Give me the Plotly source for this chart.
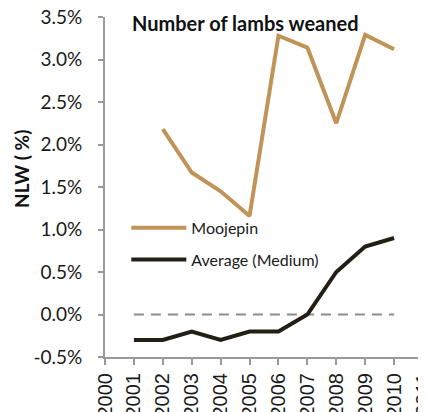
import plotly.graph_objects as go

years = [2001, 2002, 2003, 2004, 2005, 2006, 2007, 2008, 2009, 2010]
moojepin = [None, 2.18, 1.67, 1.45, 1.16, 3.28, 3.14, 2.25, 3.29, 3.12]
average_medium = [-0.3, -0.3, -0.2, -0.3, -0.2, -0.2, 0.0, 0.5, 0.8, 0.9]
zero_line = [0.0] * len(years)
tick_years = list(range(2000, 2012))
y_ticks = [-0.5, 0.0, 0.5, 1.0, 1.5, 2.0, 2.5, 3.0, 3.5]
y_labels = ["-0.5%", "0.0%", "0.5%", "1.0%", "1.5%", "2.0%", "2.5%", "3.0%", "3.5%"]

FONT = "Lato"

fig = go.Figure()
fig.add_trace(go.Scatter(x=years, y=zero_line, mode="lines", showlegend=False,
                         line=dict(color="#8c8c8c", width=2, dash="10px,7px"), hoverinfo="skip"))
fig.add_trace(go.Scatter(x=years, y=moojepin, mode="lines", name="Moojepin", legendgroup="a",
                         line=dict(color="#C09458", width=4)))
fig.add_trace(go.Scatter(x=years, y=average_medium, mode="lines", name="Average (Medium)",
                         legendgroup="b", line=dict(color="#231F15", width=4)))

# page body has an 8px default margin, so the figure is sized to fit the window
fig.update_layout(
    width=418, height=404,
    margin=dict(l=97, r=3, t=9, b=55),
    plot_bgcolor="white", paper_bgcolor="white",
    font=dict(family=FONT, size=17, color="#1a1a1a"),
    xaxis=dict(range=[2000, 2011], tickmode="array", tickvals=tick_years,
               ticktext=[str(y) for y in tick_years], tickangle=-90, automargin=False,
               showgrid=False, zeroline=False, showline=True, linecolor="#9a9a9a",
               linewidth=2, ticks="outside", ticklen=6, tickcolor="#9a9a9a", tickwidth=2,
               ticklabelstandoff=0, ticklabeloverflow="allow",
               tickfont=dict(size=20, family="Liberation Sans")),
    yaxis=dict(range=[-0.5, 3.5], tickmode="array", tickvals=y_ticks, ticktext=y_labels,
               automargin=False,
               showgrid=False, zeroline=False, showline=True, linecolor="#9a9a9a",
               linewidth=2, ticks="outside", ticklen=5, tickcolor="#9a9a9a", tickwidth=2,
               ticklabelstandoff=12, ticklabeloverflow="allow", tickfont=dict(size=19)),
    legend=dict(x=0.067, y=0.43, xanchor="left", yanchor="top", bgcolor="rgba(0,0,0,0)",
                font=dict(size=16), itemwidth=55, tracegroupgap=8),
    showlegend=True,
)
fig.add_annotation(text="<b>Number of lambs weaned</b>", xref="paper", yref="paper",
                   x=0.0786, y=0.982, xanchor="left", yanchor="middle", showarrow=False,
                   font=dict(size=20, color="#111111"))
fig.add_annotation(text="<b>NLW ( %)</b>", xref="paper", yref="paper",
                   x=-0.261, y=0.553, xanchor="center", yanchor="middle", showarrow=False,
                   textangle=-90, font=dict(size=19, color="#111111"))

fig.write_html("out.html")
